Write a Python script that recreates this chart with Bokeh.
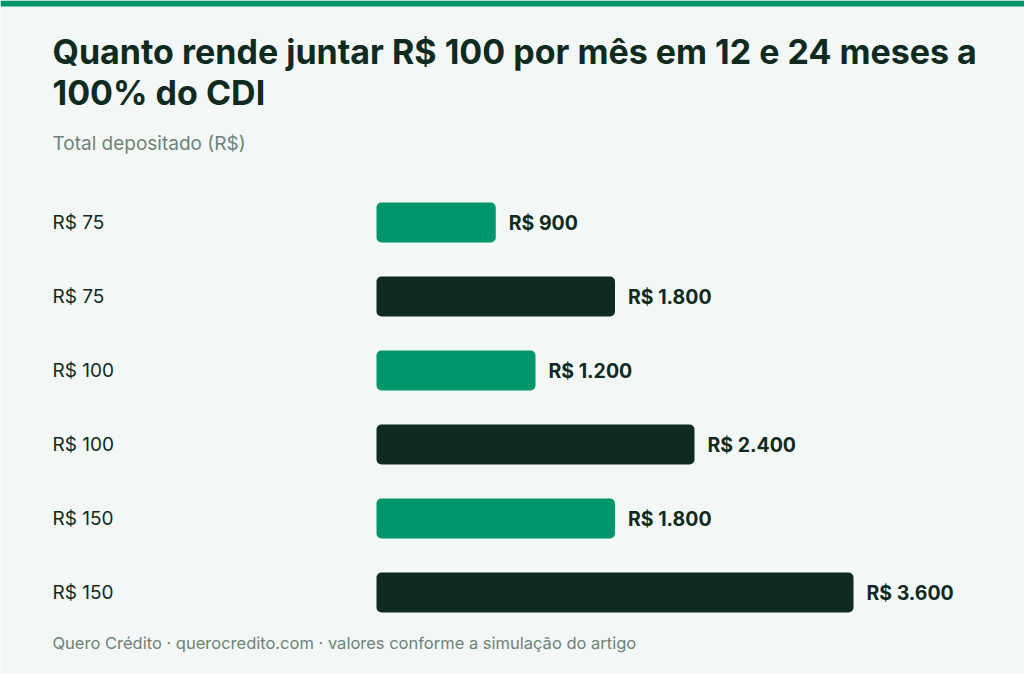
from bokeh.plotting import figure
from bokeh.models import Range1d, ColumnDataSource
from bokeh.core.properties import value
from bokeh.embed import file_html
from bokeh.resources import INLINE

# ---- data ----
row_labels = ["R$ 75", "R$ 75", "R$ 100", "R$ 100", "R$ 150", "R$ 150"]
deposits = [900, 1800, 1200, 2400, 1800, 3600]
periods = ["12 meses", "24 meses", "12 meses", "24 meses", "12 meses", "24 meses"]
value_labels = ["R$ 900", "R$ 1.800", "R$ 1.200", "R$ 2.400", "R$ 1.800", "R$ 3.600"]
title_lines = ["Quanto rende juntar R$ 100 por mês em 12 e 24 meses a", "100% do CDI"]
subtitle = "Total depositado (R$)"
footer = "Quero Crédito · querocredito.com · valores conforme a simulação do artigo"

# ---- styling ----
W, H = 1024, 674
BG = "#F3F8F6"
GREEN = "#00956A"
DARK = "#0F2A1E"
GRAY = "#6E8279"
FONT = "Inter"
period_color = {"12 meses": GREEN, "24 meses": DARK}

X0_PX = 376          # pixel where value 0 sits
XMAX_PX = 853        # pixel where the max value sits
k = max(deposits) / (XMAX_PX - X0_PX)   # data units per px
ROW0_PX = 222
ROW_STEP = 74
LEFT_PX = 52

def xd(px):
    return (px - X0_PX) * k

def yd(px):
    return (px - ROW0_PX) / ROW_STEP

p = figure(width=W, height=H, output_backend="svg", toolbar_location=None,
           x_range=Range1d(xd(0), xd(W)), y_range=Range1d(yd(H), yd(0)),
           min_border=0, min_border_left=0, min_border_right=0,
           min_border_top=0, min_border_bottom=0)
p.axis.visible = False
p.grid.visible = False
p.outline_line_color = None
p.background_fill_color = BG
p.border_fill_color = BG

# top accent strip
p.quad(left=[xd(0)], right=[xd(W)], top=[yd(0)], bottom=[yd(6)],
       fill_color=GREEN, line_color=None)

rows = list(range(len(deposits)))
src = ColumnDataSource(dict(
    y=rows, right=deposits, color=[period_color[q] for q in periods],
    label=row_labels, vlabel=value_labels, period=periods,
))

p.hbar(y="y", left=0, right="right", height=40 / ROW_STEP, source=src,
       fill_color="color", line_color=None, border_radius=5)

p.text(x=xd(LEFT_PX), y="y", text="label", source=src, text_font=value(FONT),
       text_font_size="19px", text_color=DARK, text_align="left",
       text_baseline="middle")

p.text(x="right", y="y", text="vlabel", source=src, x_offset=13,
       text_font=value(FONT), text_font_size="19.5px", text_font_style="bold",
       text_color=DARK, text_align="left", text_baseline="middle")

# titles
p.text(x=[xd(LEFT_PX), xd(LEFT_PX)], y=[yd(51), yd(92)], text=title_lines,
       text_font=value(FONT), text_font_size="34px", text_font_style="bold",
       text_color=DARK, text_align="left", text_baseline="middle")
p.text(x=[xd(LEFT_PX)], y=[yd(143)], text=[subtitle], text_font=value(FONT),
       text_font_size="19px", text_color=GRAY, text_align="left",
       text_baseline="middle")
p.text(x=[xd(LEFT_PX)], y=[yd(642)], text=[footer], text_font=value(FONT),
       text_font_size="16.5px", text_color=GRAY, text_align="left",
       text_baseline="middle")

open("out.html", "w").write(file_html(p, INLINE))
